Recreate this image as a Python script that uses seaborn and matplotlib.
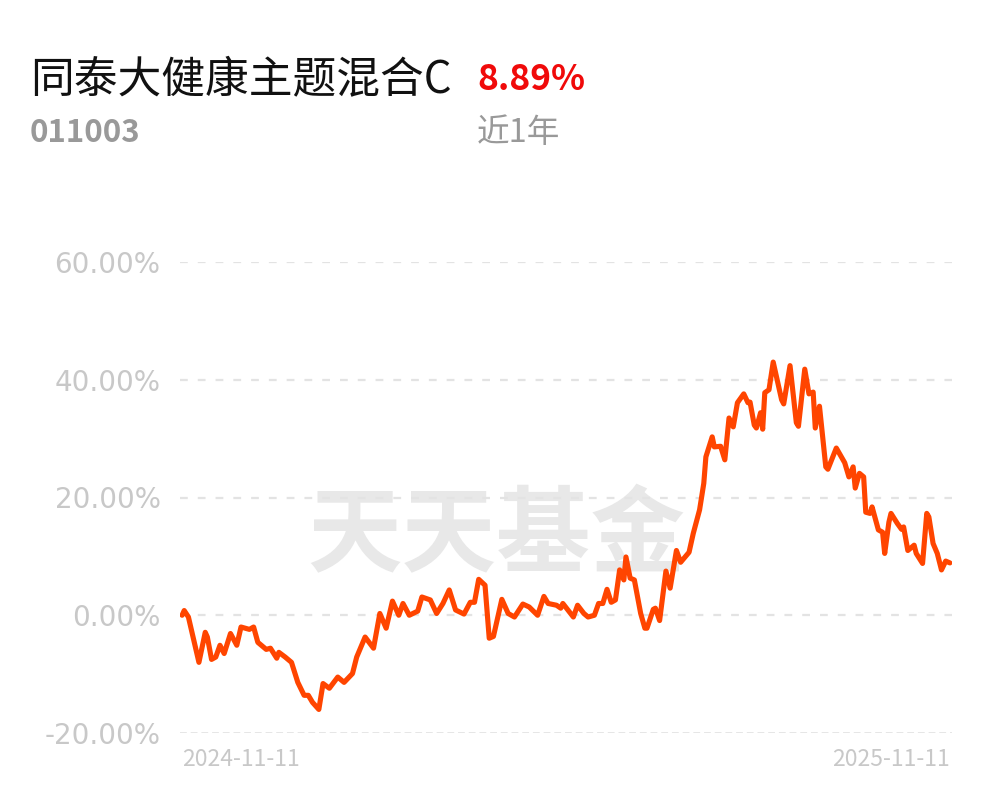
import numpy as np
import pandas as pd
import matplotlib
matplotlib.use('Agg')
import matplotlib.pyplot as plt
import seaborn as sns

# fund info
fund_name = '同泰大健康主题混合C'
fund_code = '011003'
period_return = '8.89%'
period_label = '近1年'
start_date = '2024-11-11'
end_date = '2025-11-11'

# days since start date
days = [0, 1, 3, 8, 11, 12, 14, 16, 18, 20, 23, 26, 28, 32, 34, 36, 40, 42, 45, 46,
        49, 52, 55, 58, 60, 62, 65, 67, 70, 74, 77, 81, 83, 87, 91, 94, 97, 100, 103, 105,
        108, 112, 114, 118, 121, 124, 127, 130, 134, 137, 139, 141, 144, 146, 148, 152, 155, 158, 162, 165,
        169, 172, 174, 178, 180, 181, 186, 188, 191, 193, 196, 198, 200, 202, 204, 206, 208, 210, 211, 213,
        215, 218, 220, 221, 224, 225, 227, 230, 232, 235, 237, 241, 243, 246, 248, 249, 252, 253, 256, 258,
        260, 262, 264, 267, 269, 270, 272, 273, 275, 276, 277, 279, 281, 285, 286, 289, 292, 293, 296, 298,
        300, 301, 303, 306, 307, 311, 315, 317, 319, 320, 322, 324, 325, 327, 328, 331, 333, 334, 336, 337,
        340, 342, 343, 345, 348, 349, 352, 354, 355, 357, 359, 361, 363, 365]

# cumulative return, %
returns = [0.0, 0.8, -0.3, -8.0, -2.9, -3.7, -7.5, -7.1, -5.1, -6.5, -3.1, -5.1, -2.0, -2.4, -2.0, -4.6, -5.8, -5.6, -7.3, -6.3,
           -7.1, -8.0, -11.4, -13.6, -13.6, -14.8, -16.0, -11.6, -12.4, -10.5, -11.4, -9.9, -7.1, -3.7, -5.6, 0.3, -2.2, 2.4, 0.0, 2.0,
           0.0, 0.7, 3.1, 2.6, 0.3, 2.0, 4.3, 0.9, 0.2, 2.2, 2.2, 6.1, 5.1, -3.9, -3.6, 2.7, 0.3, -0.3, 1.9, 1.4,
           0.0, 3.2, 2.0, 1.7, 1.2, 2.0, -0.3, 1.7, 0.3, -0.3, 0.0, 2.0, 2.0, 4.4, 2.2, 2.6, 7.7, 6.0, 9.9, 6.3,
           6.0, 0.3, -2.2, -2.2, 1.0, 1.2, -0.9, 7.5, 4.6, 11.0, 9.0, 10.7, 13.9, 17.9, 22.4, 26.9, 30.3, 28.6, 28.7, 26.4,
           33.5, 32.0, 36.1, 37.6, 36.1, 36.2, 32.3, 31.8, 34.4, 31.6, 37.8, 38.3, 43.0, 36.6, 35.9, 42.4, 32.7, 32.1, 41.8, 37.6,
           37.9, 31.8, 35.5, 25.2, 24.8, 28.4, 25.9, 23.5, 25.2, 21.6, 24.1, 23.5, 17.5, 17.3, 18.4, 14.5, 14.1, 10.5, 15.8, 17.3,
           15.6, 14.6, 15.0, 11.0, 11.9, 10.5, 8.8, 17.3, 16.7, 12.2, 10.5, 7.7, 9.2, 8.89]

y_ticks = [-20, 0, 20, 40, 60]

df = pd.DataFrame({'date': pd.Timestamp(start_date) + pd.to_timedelta(days, unit='D'),
                   'ret': returns})

sns.set_theme(style='white')
plt.rcParams['font.family'] = ['Noto Sans CJK SC', 'DejaVu Sans']

W, H = 997, 802
fig = plt.figure(figsize=(W / 100, H / 100), dpi=100, facecolor='white')
ax = fig.add_axes([180 / W, 1 - 733 / H, (952 - 180) / W, (733 - 262) / H])

# watermark
ax.text(0.41, 0.415, '天天基金', transform=ax.transAxes, ha='center', va='center',
        fontsize=68, fontweight='bold', color='#e8e8e8', zorder=0)

# grid lines
for t in y_ticks:
    if t == -20:
        ax.axhline(t, color='#e6e6e6', lw=1.4, dashes=(3.5, 2), zorder=1)
    else:
        ax.axhline(t, color='#e3e3e3', lw=1.6, dashes=(3.5, 4.5), zorder=1)

sns.lineplot(data=df, x='date', y='ret', ax=ax, color='#ff4500', lw=3.7, zorder=3)

ax.set_ylim(-20, 60)
ax.set_xlim(pd.Timestamp(start_date) - pd.Timedelta(days=1), pd.Timestamp(end_date) + pd.Timedelta(days=1))
ax.set_yticks(y_ticks)
ax.set_yticklabels([f'{t:.2f}%' for t in y_ticks], fontsize=20, color='#c8c8c8', family='DejaVu Sans')
ax.set_xticks([pd.Timestamp(start_date), pd.Timestamp(end_date)])
xl = ax.set_xticklabels([start_date, end_date], fontsize=16.5, color='#c8c8c8')
xl[0].set_ha('left')
xl[1].set_ha('right')
ax.tick_params(axis='y', length=0, pad=14)
ax.tick_params(axis='x', length=0, pad=11)
ax.set_xlabel('')
ax.set_ylabel('')
for s in ax.spines.values():
    s.set_visible(False)

# header
fig.text(30 / W, 1 - 80 / H, fund_name, fontsize=31.5, color='#111111', va='center', ha='left')
fig.text(477 / W, 1 - 80 / H, period_return, fontsize=25.5, color='#f00a0a', fontweight='bold',
         va='center', ha='left')
fig.text(30 / W, 1 - 133 / H, fund_code, fontsize=22.5, color='#999999', fontweight='bold',
         va='center', ha='left')
fig.text(477 / W, 1 - 133 / H, period_label, fontsize=23.5, color='#999999', va='center', ha='left')

fig.savefig('out.png', dpi=100, facecolor='white')
